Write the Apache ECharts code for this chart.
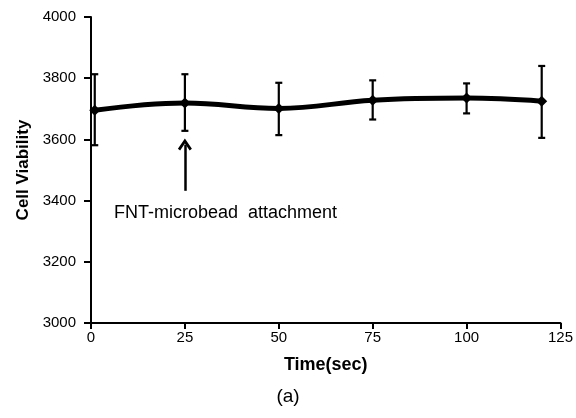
<!DOCTYPE html>
<html>
<head>
<meta charset="utf-8">
<script src="https://cdn.jsdelivr.net/npm/echarts@6/dist/echarts.min.js"></script>
<style>
html, body { margin: 0; padding: 0; background: #fff; }
#main { width: 576px; height: 418px; }
</style>
</head>
<body>
<div id="main"></div>
<script>
// 数据
var times = [1, 25, 50, 75, 100, 120];
var viability = [3695, 3719, 3701, 3728, 3735, 3725];
var errUpper = [3813, 3813, 3785, 3793, 3783, 3840];
var errLower = [3581, 3628, 3614, 3665, 3685, 3605];
var yTicks = [3000, 3200, 3400, 3600, 3800, 4000];
var xTicks = [0, 25, 50, 75, 100, 125];

var myChart = echarts.init(document.getElementById('main'));

var lineData = [];
var errData = [];
for (var i = 0; i < times.length; i++) {
    lineData.push([times[i], viability[i]]);
    errData.push([times[i], errLower[i], errUpper[i]]);
}

var font = 'Liberation Sans, Arial, sans-serif';

var option = {
    animation: false,
    grid: { left: 91, right: 11, top: 17, bottom: 95 },
    xAxis: {
        type: 'value',
        min: xTicks[0],
        max: xTicks[xTicks.length - 1],
        interval: 25,
        name: 'Time(sec)',
        nameLocation: 'middle',
        nameGap: 33,
        nameTextStyle: { color: '#000', fontSize: 18, fontWeight: 'bold', fontFamily: font },
        axisLine: { lineStyle: { color: '#000', width: 2 } },
        axisTick: { inside: false, length: 6, lineStyle: { color: '#000', width: 2 } },
        axisLabel: { color: '#000', fontSize: 15, fontFamily: font, margin: 7 },
        splitLine: { show: false }
    },
    yAxis: {
        type: 'value',
        min: yTicks[0],
        max: yTicks[yTicks.length - 1],
        interval: 200,
        name: 'Cell Viability',
        nameLocation: 'middle',
        nameGap: 56,
        nameTextStyle: { color: '#000', fontSize: 17, fontWeight: 'bold', fontFamily: font },
        axisLine: { show: true, lineStyle: { color: '#000', width: 2 } },
        axisTick: { show: true, length: 7, lineStyle: { color: '#000', width: 2 } },
        axisLabel: {
            color: '#000', fontSize: 15, fontFamily: font, margin: 15,
            formatter: function(v) { return String(v); }
        },
        splitLine: { show: false }
    },
    graphic: [{
        type: 'text',
        left: 'center',
        top: 387,
        style: { text: '(a)', fontSize: 19, fontFamily: font, fill: '#000' }
    }],
    series: [{
        type: 'custom',
        name: 'err',
        z: 3,
        renderItem: function(params, api) {
            var x = api.value(0);
            var lo = api.coord([x, api.value(1)]);
            var hi = api.coord([x, api.value(2)]);
            var w = 3.5;
            var st = { stroke: '#000', lineWidth: 2.2 };
            return {
                type: 'group',
                children: [
                    { type: 'line', shape: { x1: lo[0], y1: lo[1], x2: hi[0], y2: hi[1] }, style: st },
                    { type: 'line', shape: { x1: lo[0] - w, y1: lo[1], x2: lo[0] + w, y2: lo[1] }, style: st },
                    { type: 'line', shape: { x1: hi[0] - w, y1: hi[1], x2: hi[0] + w, y2: hi[1] }, style: st }
                ]
            };
        },
        encode: { x: 0, y: [1, 2] },
        data: errData
    }, {
        type: 'line',
        name: 'viability',
        z: 4,
        smooth: 0.4,
        data: lineData,
        symbol: 'diamond',
        symbolSize: 11,
        itemStyle: { color: '#000' },
        lineStyle: { color: '#000', width: 5 },
        markLine: {
            silent: true,
            symbol: ['none', 'path://M5,0 L10,7 L8.4,8.2 L5,3.4 L1.6,8.2 L0,7 Z'],
            symbolSize: [14, 12],
            lineStyle: { color: '#000', width: 2.5, type: 'solid' },
            label: { show: false },
            data: [[{ coord: [25, 3432] }, { coord: [25, 3583] }]]
        },
        markPoint: {
            silent: true,
            symbol: 'circle',
            symbolSize: 0,
            label: {
                show: true,
                position: 'inside',
                formatter: 'FNT-microbead  attachment',
                color: '#000',
                fontSize: 18,
                fontFamily: font
            },
            data: [{ coord: [35.8, 3360] }]
        }
    }]
};

myChart.setOption(option);
</script>
</body>
</html>
